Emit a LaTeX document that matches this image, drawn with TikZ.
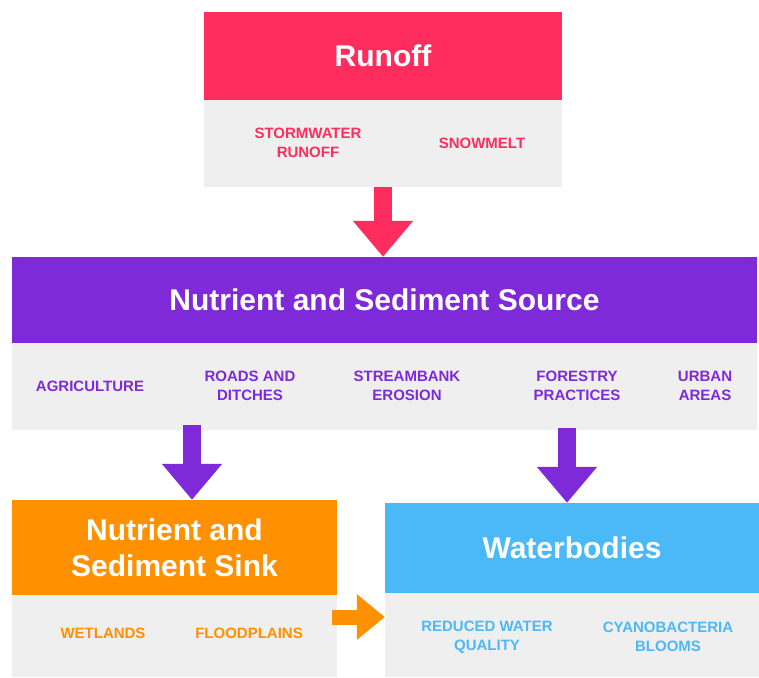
\documentclass[tikz,border=0pt]{standalone}
\usepackage{fontspec}
\setmainfont{Liberation Sans}
\usetikzlibrary{positioning}
\usetikzlibrary{arrows.meta}
\definecolor{runoffred}{HTML}{FF2D5E}
\definecolor{sourcepurple}{HTML}{7E2AD9}
\definecolor{sinkorange}{HTML}{FF9000}
\definecolor{waterblue}{HTML}{4BB9F7}
\definecolor{boxgray}{HTML}{EFEFEF}
\tikzset{
	head/.style={fill=#1, text=white, font=\fontsize{30}{36}\selectfont\bfseries, align=center, inner sep=0pt},
	body/.style={fill=boxgray, inner sep=0pt},
	item/.style={text=#1, font=\fontsize{15}{19}\selectfont\bfseries, align=center, inner sep=0pt},
	flow/.style={draw=#1, line width=18pt, -{Triangle[width=58pt,length=36pt]}}
}

\begin{document}
\begin{tikzpicture}[x=1pt,y=-1pt]
				\useasboundingbox (0,0) rectangle (759,677);
				%Nodes
				\node[body, minimum width=358pt, minimum height=87pt] (runoffbody) at (383,143.5) {};
				\node[head=runoffred, minimum width=358pt, minimum height=88pt] (runoff) at (383,56) {Runoff};
				\node[item=runoffred] (storm) at (308,143) {STORMWATER\\RUNOFF};
				\node[item=runoffred] (snow) at (482,143) {SNOWMELT};

				\node[body, minimum width=745pt, minimum height=87pt] (sourcebody) at (384.5,386.5) {};
				\node[head=sourcepurple, minimum width=745pt, minimum height=86pt] (source) at (384.5,300) {Nutrient and Sediment Source};
				\node[item=sourcepurple] (agri) at (90,386) {AGRICULTURE};
				\node[item=sourcepurple] (roads) at (250,386) {ROADS AND\\DITCHES};
				\node[item=sourcepurple] (stream) at (407,386) {STREAMBANK\\EROSION};
				\node[item=sourcepurple] (forest) at (577,386) {FORESTRY\\PRACTICES};
				\node[item=sourcepurple] (urban) at (705,386) {URBAN\\AREAS};

				\node[body, minimum width=325pt, minimum height=82pt] (sinkbody) at (174.5,636) {};
				\node[head=sinkorange, minimum width=325pt, minimum height=95pt] (sink) at (174.5,547.5) {Nutrient and\\Sediment Sink};
				\node[item=sinkorange] (wet) at (103,633) {WETLANDS};
				\node[item=sinkorange] (flood) at (249,633) {FLOODPLAINS};

				\node[body, minimum width=374pt, minimum height=84pt] (waterbody) at (572,635) {};
				\node[head=waterblue, minimum width=374pt, minimum height=90pt] (water) at (572,548) {Waterbodies};
				\node[item=waterblue] (quality) at (487,637) {REDUCED WATER\\QUALITY};
				\node[item=waterblue] (cyano) at (668,637) {CYANOBACTERIA\\BLOOMS};

				\coordinate      (p1) 	at 	(192,425);
				\coordinate      (p2) 	at 	(567,428);
				\coordinate      (o1) 	at 	(332,617);

				%Lines
				\draw[flow=runoffred] (runoffbody.south) -- (runoffbody.south |- source.north);
				\draw[flow=sourcepurple] (p1) -- (p1 |- sink.north);
				\draw[flow=sourcepurple] (p2) -- (p2 |- water.north);
				\draw[flow=sinkorange, line width=15pt, -{Triangle[width=44pt,length=28pt]}] (o1) -- (o1 -| waterbody.west);

		\end{tikzpicture}
\end{document}
